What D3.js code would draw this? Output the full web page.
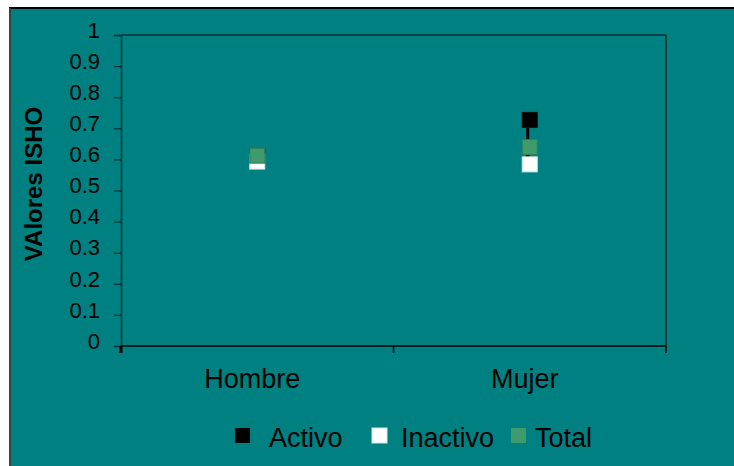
<!DOCTYPE html>
<html><head><meta charset="utf-8">
<script src="https://cdn.jsdelivr.net/npm/d3@7"></script>
<style>body{margin:0;background:#fff}svg{display:block}</style>
</head><body>
<svg id="c" width="734" height="466"></svg>
<script>
const categories = ["Hombre", "Mujer"];
const activo = [0.61, 0.727];
const inactivo = [0.593, 0.584];
const total = [0.612, 0.64];
const yTicks = [0, 0.1, 0.2, 0.3, 0.4, 0.5, 0.6, 0.7, 0.8, 0.9, 1];
const yTickLabels = ["0", "0.1", "0.2", "0.3", "0.4", "0.5", "0.6", "0.7", "0.8", "0.9", "1"];
const seriesNames = ["Activo", "Inactivo", "Total"];

const svg = d3.select("#c");
const W = 734, H = 466;
svg.append("rect").attr("x", 9).attr("y", 8).attr("width", W - 9).attr("height", H - 8).attr("fill", "#008080");
svg.append("line").attr("x1", 9).attr("x2", W).attr("y1", 8).attr("y2", 8).attr("stroke", "#000").attr("stroke-width", 2);
svg.append("line").attr("x1", 10).attr("x2", 10).attr("y1", 8).attr("y2", H).attr("stroke", "#2a4a4a").attr("stroke-width", 2);

const L = 121, R = 666, T = 35, B = 346;
const x = d3.scaleBand().domain(categories).range([L, R]).padding(0);
const y = d3.scaleLinear().domain([0, 1]).range([B, T]);
const font = "Arial, 'Liberation Sans', sans-serif";

// plot frame top/right
svg.append("line").attr("x1", L).attr("x2", R).attr("y1", T).attr("y2", T).attr("stroke", "#0b2e2e").attr("stroke-width", 1.5);
svg.append("line").attr("x1", R).attr("x2", R).attr("y1", T).attr("y2", B).attr("stroke", "#0b3a3a").attr("stroke-width", 2);

// y axis
const yAxis = d3.axisLeft(y).tickValues(yTicks).tickFormat((d, i) => yTickLabels[i]).tickSize(7).tickPadding(14);
const gy = svg.append("g").attr("transform", `translate(${L},0)`).call(yAxis);
gy.select(".domain").attr("stroke", "#0b2e2e").attr("stroke-width", 1.5);
gy.selectAll(".tick line").attr("stroke", "#0b2e2e").attr("stroke-width", 1.2);
gy.selectAll(".tick text").attr("font-family", font).attr("font-size", 22).attr("fill", "#000").attr("dy", "0.1em");

// x axis
const gx = svg.append("g").attr("transform", `translate(0,${B})`);
gx.append("line").attr("x1", L).attr("x2", R).attr("stroke", "#000").attr("stroke-width", 1.5);
const bounds = [L, ...categories.slice(1).map(c => x(c)), R];
gx.selectAll("line.tk").data(bounds).join("line").attr("class", "tk")
  .attr("x1", d => d).attr("x2", d => d).attr("y1", 0).attr("y2", 7)
  .attr("stroke", "#000").attr("stroke-width", (d, i) => i === 0 ? 3 : 1.5);
gx.selectAll("text").data(categories).join("text")
  .attr("x", d => x(d) + x.bandwidth() / 2 - 5).attr("y", 42)
  .attr("text-anchor", "middle").attr("font-family", font).attr("font-size", 27).attr("fill", "#000").text(d => d);

// y title
svg.append("text").attr("transform", `translate(42,184) rotate(-90)`)
  .attr("text-anchor", "middle").attr("font-family", font).attr("font-weight", "bold")
  .attr("font-size", 24).attr("fill", "#000").text("VAlores ISHO");

// hi-lo lines
const cx = c => x(c) + x.bandwidth() / 2;
svg.selectAll("line.hl").data(categories).join("line").attr("class", "hl")
  .attr("x1", (c) => cx(c) - 2).attr("x2", c => cx(c) - 2)
  .attr("y1", (c, i) => y(Math.max(activo[i], inactivo[i])))
  .attr("y2", (c, i) => y(Math.min(activo[i], inactivo[i])))
  .attr("stroke", "#000").attr("stroke-width", 3);

const S = 15;
const series = [
  {vals: activo, fill: "#000", stroke: "#111"},
  {vals: inactivo, fill: "#fff", stroke: "#cfe8e8"},
  {vals: total, fill: "#3f9b6b", stroke: "#2f7f58"}
];
series.forEach(s => {
  svg.append("g").selectAll("rect").data(categories).join("rect")
    .attr("x", c => cx(c) - S / 2).attr("y", (c, i) => y(s.vals[i]) - S / 2)
    .attr("width", S).attr("height", S).attr("fill", s.fill).attr("stroke", s.stroke).attr("stroke-width", 1);
});

// legend
const legX = [235, 372, 511];
const lg = svg.append("g");
seriesNames.forEach((n, i) => {
  lg.append("rect").attr("x", legX[i]).attr("y", 428).attr("width", 15).attr("height", 15)
    .attr("fill", series[i].fill).attr("stroke", i === 1 ? "#cfe8e8" : "none");
  lg.append("text").attr("x", legX[i] + (i === 0 ? 34 : (i === 1 ? 29 : 24))).attr("y", 447)
    .attr("font-family", font).attr("font-size", 27).attr("fill", "#000").text(n);
});
</script>
</body></html>
